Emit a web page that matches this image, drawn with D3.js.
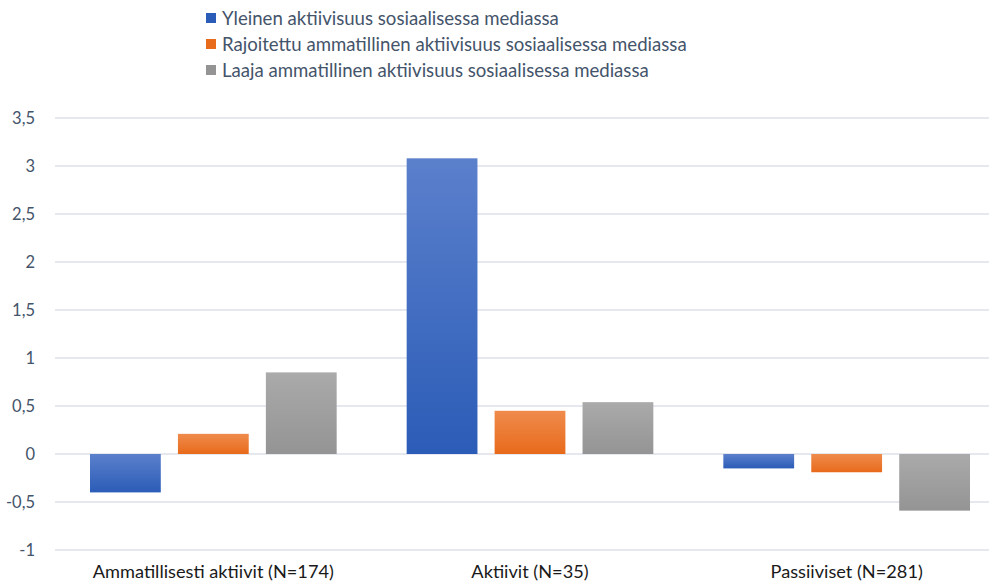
<!DOCTYPE html>
<html>
<head>
<meta charset="utf-8">
<script src="https://cdn.jsdelivr.net/npm/d3@7"></script>
<style>
  body { margin: 0; background: #fff; }
  svg { font-family: Lato, "Open Sans", sans-serif; }
</style>
</head>
<body>
<div id="chart"></div>
<script>
var width = 989, height = 584;

// data
var groups = ["Ammatillisesti aktiivit (N=174)", "Aktiivit (N=35)", "Passiiviset (N=281)"];
var seriesNames = [
  "Yleinen aktiivisuus sosiaalisessa mediassa",
  "Rajoitettu ammatillinen aktiivisuus sosiaalisessa mediassa",
  "Laaja ammatillinen aktiivisuus sosiaalisessa mediassa"
];
var yleinen = [-0.4, 3.08, -0.15];
var rajoitettu = [0.21, 0.45, -0.19];
var laaja = [0.85, 0.54, -0.59];
var yTicks = [-1, -0.5, 0, 0.5, 1, 1.5, 2, 2.5, 3, 3.5];

var seriesValues = [yleinen, rajoitettu, laaja];
var colorsTop = ["#5b80cc", "#ef8b4c", "#aaaaaa"];
var colorsBottom = ["#2b5cb7", "#e86a1b", "#949494"];

var svg = d3.select("#chart").append("svg")
  .attr("width", width)
  .attr("height", height);

var defs = svg.append("defs");
seriesNames.forEach(function(s, i) {
  var g = defs.append("linearGradient")
    .attr("id", "grad" + i)
    .attr("x1", 0).attr("y1", 0).attr("x2", 0).attr("y2", 1);
  g.append("stop").attr("offset", "0%").attr("stop-color", colorsTop[i]);
  g.append("stop").attr("offset", "100%").attr("stop-color", colorsBottom[i]);
});

// scales
var y = d3.scaleLinear().domain([-1, 3.5]).range([550, 118]);
var x0 = d3.scaleBand().domain(groups).range([55, 1005]).paddingInner(0).paddingOuter(0);
var x1 = d3.scaleBand().domain(d3.range(3)).range([35, x0.bandwidth() - 35]).paddingInner(0.195).paddingOuter(0);

// gridlines
svg.append("g")
  .selectAll("line")
  .data(yTicks).enter()
  .append("line")
  .attr("x1", 55).attr("x2", width)
  .attr("y1", function(d) { return y(d); })
  .attr("y2", function(d) { return y(d); })
  .attr("stroke", "#dde0e8")
  .attr("stroke-width", 1.3);

// y axis labels
var fmt = function(d) { return String(d).replace(".", ","); };
svg.append("g")
  .selectAll("text")
  .data(yTicks).enter()
  .append("text")
  .attr("x", 35)
  .attr("y", function(d) { return y(d); })
  .attr("dy", "0.35em")
  .attr("text-anchor", "end")
  .attr("fill", "#44546a")
  .style("font-size", "16.5px")
  .text(fmt);

// bars
var barData = [];
groups.forEach(function(g, gi) {
  seriesValues.forEach(function(vals, si) {
    barData.push({ group: g, s: si, v: vals[gi] });
  });
});

svg.append("g")
  .selectAll("rect")
  .data(barData).enter()
  .append("rect")
  .attr("x", function(d) { return x0(d.group) + x1(d.s); })
  .attr("width", x1.bandwidth())
  .attr("y", function(d) { return y(Math.max(0, d.v)); })
  .attr("height", function(d) { return Math.abs(y(d.v) - y(0)); })
  .attr("fill", function(d) { return "url(#grad" + d.s + ")"; });

// x labels
svg.append("g")
  .selectAll("text")
  .data(groups).enter()
  .append("text")
  .attr("x", function(d) { return x0(d) + x0.bandwidth() / 2; })
  .attr("y", 578)
  .attr("text-anchor", "middle")
  .attr("fill", "#1a1a1a")
  .style("font-size", "18.2px")
  .text(function(d) { return d; });

// legend
var legend = svg.append("g");
var legendRows = legend.selectAll("g")
  .data(seriesNames).enter()
  .append("g")
  .attr("transform", function(d, i) { return "translate(206," + (18 + i * 26) + ")"; });

legendRows.append("rect")
  .attr("x", 0).attr("y", -5)
  .attr("width", 10).attr("height", 10)
  .attr("fill", function(d, i) { return colorsBottom[i]; });

legendRows.append("text")
  .attr("x", 16)
  .attr("dy", "0.35em")
  .attr("fill", "#44546a")
  .style("font-size", "18.6px")
  .text(function(d) { return d; });
</script>
</body>
</html>
